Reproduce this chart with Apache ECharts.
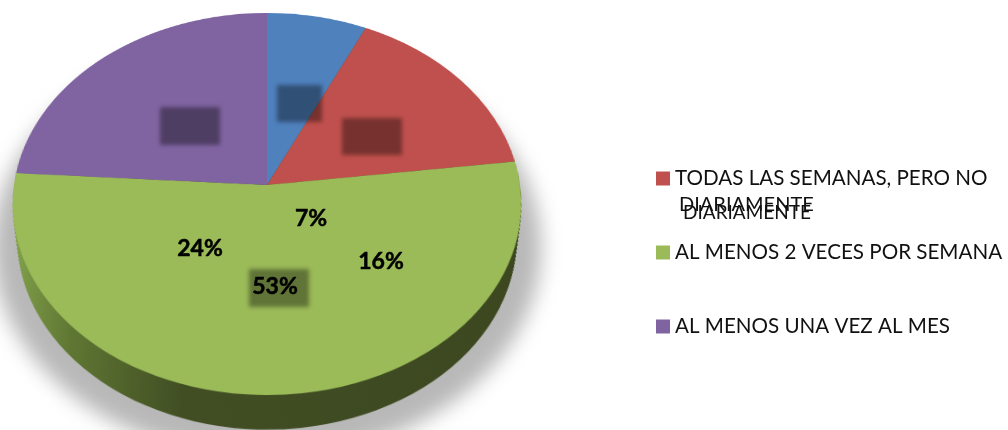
<!DOCTYPE html>
<html>
<head>
<meta charset="utf-8">
<style>
  html, body { margin: 0; padding: 0; background: #fff; overflow: hidden; }
  #page { position: relative; width: 1008px; height: 430px; overflow: hidden; filter: blur(0.6px); }
  /* the disc is a flat pie seen through a css perspective, so the apex sits above the ellipse centre */
  .flat { position: absolute; left: -83px; top: -165px; width: 700px; height: 700px;
          transform-origin: 350px 350px; transform: perspective(1689px) rotateX(41.6deg); }
  .layer { position: absolute; left: 0; top: 0; width: 1008px; height: 430px; }
  #shadowWrap { filter: blur(10px); }
  #boxes { filter: blur(2px); }
</style>
</head>
<body>
<div id="page">
  <div id="shadowWrap" class="layer"><div id="shadow" class="flat"></div></div>
  <div id="disc" class="flat"></div>
  <div id="boxes" class="layer"></div>
  <div id="overlay" class="layer"></div>
</div>
<script src="https://cdn.jsdelivr.net/npm/echarts@6/dist/echarts.min.js"></script>
<script>
const categories = ['DIARIAMENTE', 'TODAS LAS SEMANAS, PERO NO', 'AL MENOS 2 VECES POR SEMANA', 'AL MENOS UNA VEZ AL MES']
const values = [7, 16, 53, 24]
const colors = ['#4f81bd', '#c0504d', '#9bbb59', '#8064a2']
const legendNames = ['TODAS LAS SEMANAS, PERO NO', 'AL MENOS 2 VECES POR SEMANA', 'AL MENOS UNA VEZ AL MES']
const legendTops = [168, 242, 316]
const wrappedLine = 'DIARIAMENTE'

// where the source picture left its misplaced labels and their dark boxes
const labelPos = [[311, 219], [200, 249], [381, 262], [275, 287]]
const labelOrder = [0, 3, 1, 2]
const boxes = [[159, 106, 62, 40], [276, 84, 47, 39], [341, 117, 62, 39], [248, 268, 62, 40]]

const font = 'Lato, Carlito, "Open Sans", sans-serif'
const radius = 253
const depth = 46
const mid = 350

function pieData(fill) {
  return categories.map((name, i) => ({
    name: name,
    value: values[i],
    itemStyle: { color: fill || colors[i] }
  }))
}

function flatPie(r, dy, fill) {
  return {
    type: 'pie', silent: true, animation: false, label: { show: false }, labelLine: { show: false },
    radius: r, center: [mid, mid + dy],
    data: pieData(fill)
  }
}

const wall = {
  type: 'linear', x: 97, y: 0, x2: 603, y2: 0, global: true,
  colorStops: [
    { offset: 0, color: '#86a64e' },
    { offset: 0.14, color: '#5f7733' },
    { offset: 0.35, color: '#414e23' },
    { offset: 1, color: '#3c4720' }
  ]
}

// soft grey shadow under the whole thing, blurred by css
let shadowChart = echarts.init(document.getElementById('shadow'))
shadowChart.setOption({ animation: false, series: [flatPie(radius + 14, 52, '#b8b8b8')] })

// side wall is just the same pie repeated downwards, tightened so the sides stay straight under perspective
let discSeries = []
for (let k = depth; k > 0; k--) {
  discSeries.push(flatPie(radius - k * 0.2, k, wall))
}
discSeries.push(flatPie(radius, 0))

let discChart = echarts.init(document.getElementById('disc'))
discChart.setOption({ animation: false, series: discSeries })

let boxChart = echarts.init(document.getElementById('boxes'))
boxChart.setOption({
  animation: false,
  graphic: boxes.map((b) => ({
    type: 'rect', silent: true,
    shape: { x: b[0] + 1, y: b[1] + 1, width: b[2] - 2, height: b[3] - 2 },
    style: { fill: 'rgba(0,0,0,0.38)' }
  }))
})

let graphics = []
labelOrder.forEach((v, i) => {
  graphics.push({
    type: 'text', silent: true, z: 20, x: labelPos[i][0], y: labelPos[i][1],
    style: {
      text: values[v] + '%', font: 'bold 23px ' + font, fill: '#000',
      stroke: '#000', lineWidth: 0.5,
      textAlign: 'center', textVerticalAlign: 'middle'
    }
  })
})
graphics.push({
  type: 'text', silent: true, z: 20, x: 679, y: 205,
  style: { text: wrappedLine, font: '20px ' + font, fill: '#111', textVerticalAlign: 'middle' }
})
graphics.push({
  type: 'text', silent: true, z: 20, x: 683, y: 213,
  style: { text: wrappedLine, font: '19px ' + font, fill: '#111', textVerticalAlign: 'middle' }
})

let overlayChart = echarts.init(document.getElementById('overlay'))
overlayChart.setOption({
  animation: false,
  legend: legendNames.map((name, i) => ({
    data: [name],
    left: 656,
    top: legendTops[i],
    padding: 0,
    orient: 'vertical',
    icon: 'rect',
    itemWidth: 14,
    itemHeight: 14,
    selectedMode: false,
    textStyle: { fontFamily: font, fontSize: 20.6, color: '#111', padding: [2, 0, 0, 0] }
  })),
  graphic: graphics,
  // no visible slices here, it only feeds the legends
  series: [{
    type: 'pie', silent: true, radius: [0, 0], center: [-50, -50],
    label: { show: false }, labelLine: { show: false },
    data: pieData()
  }]
})
</script>
</body>
</html>
